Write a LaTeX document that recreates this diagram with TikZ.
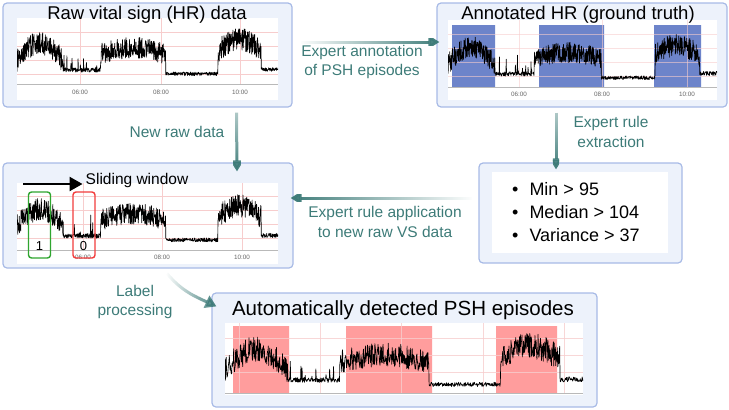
\documentclass[tikz,border=0pt]{standalone}
\usepackage{fontspec}
\setmainfont{Liberation Sans}
\usetikzlibrary{arrows.meta,fadings}
\definecolor{PanelFill}{HTML}{EDF2FB}
\definecolor{PanelEdge}{HTML}{A7BAE6}
\definecolor{FlowTeal}{HTML}{3D7B78}
\definecolor{GridPink}{HTML}{F7CDCD}
\definecolor{TruthBlue}{HTML}{6D84CA}
\definecolor{DetectRed}{HTML}{FF9D9D}
\definecolor{WinGreen}{HTML}{2FA52F}
\definecolor{WinRed}{HTML}{F23D3D}
\tikzfading[name=fadeE,left color=transparent!100,middle color=transparent!15,right color=transparent!0]
\tikzfading[name=fadeW,left color=transparent!0,middle color=transparent!15,right color=transparent!100]
\tikzfading[name=fadeS,top color=transparent!60,bottom color=transparent!0]
% noisy heart-rate trace: x from #1 to #2, low level at y=#3, height #4
\newcommand\hrtrace[4]{%
  \draw[hrline] plot[domain=0:1,samples=900,variable=\t]
    ({#1+\t*(#2-#1)},{#3-#4*(hrenv(\t)+hrnz(\t)*rand+hrspk(\t))});}

\begin{document}
\begin{tikzpicture}[x=1pt,y=-1pt,line join=round,
  panel/.style={draw=PanelEdge,fill=PanelFill,line width=1.2pt,rounded corners=4pt,inner sep=0pt},
  gridln/.style={GridPink,line width=0.5pt},
  axisln/.style={gray!55,line width=0.7pt},
  ticklbl/.style={font=\fontsize{6.3}{7}\selectfont,text=gray!80!black,inner sep=0pt},
  title/.style={font=\fontsize{18.5}{21}\selectfont,inner sep=0pt},
  flowlbl/.style={text=FlowTeal,align=center,font=\fontsize{15.5}{19.5}\selectfont,inner sep=0pt},
  flow/.style={FlowTeal,line width=3pt,-{Triangle[length=11pt,width=13pt]}},
  hrline/.style={black,line width=0.65pt},
  rulelbl/.style={font=\fontsize{18}{21}\selectfont,anchor=west,inner sep=0pt},
  window/.style={line width=1.4pt,rounded corners=3pt,minimum width=22pt,minimum height=66pt,inner sep=0pt},
  declare function={
    hrenv(\t)=(\t<0.175)?(0.3+0.55*sin(180*\t/0.175)):((\t<0.32)?0.0:((\t<0.57)?(0.5+0.2*sin(180*(\t-0.32)/0.25)):((\t<0.77)?-0.12:((\t<0.935)?(0.6+0.35*sin(180*(\t-0.77)/0.165)):0.02))));
    hrnz(\t)=(\t<0.175)?0.36:((\t<0.32)?0.07:((\t<0.57)?0.33:((\t<0.77)?0.06:((\t<0.935)?0.36:0.07))));
    hrspk(\t)=(\t>0.175)*(\t<0.32)*(rnd>0.9)*0.6*rnd;}]
\pgfmathsetseed{4217}
\useasboundingbox (0,0) rectangle (729,410);

% panels
\node[panel,minimum width=289pt,minimum height=104pt] (raw) at (147.5,55) {};
\node[panel,minimum width=290pt,minimum height=104pt] (annot) at (582,55) {};
\node[panel,minimum width=290pt,minimum height=105pt] (slide) at (148,215.5) {};
\node[panel,minimum width=203pt,minimum height=100pt] (rules) at (580.5,213) {};
\node[panel,minimum width=385pt,minimum height=114pt] (auto) at (404.5,350) {};

% raw HR chart
\fill[white] (17,18) rectangle (278,100);
\foreach \y in {32,46,60,74} \draw[gridln] (17,\y) -- (278,\y);
\foreach \x/\lbl in {80/06:00,161/08:00,240/10:00} {
  \draw[gridln] (\x,18) -- (\x,84);
  \node[ticklbl] at (\x,92) {\lbl};}
\draw[axisln] (17,84) -- (278,84);
\begin{scope}
  \clip (17,18) rectangle (278,84);
  \hrtrace{17}{278}{70}{32}
\end{scope}
\node[title] (rawtitle) at (147,15) {Raw vital sign (HR) data};

% annotated chart
\fill[white] (448,20) rectangle (717,100);
\fill[TruthBlue] (452,25) rectangle (495,87) (539,25) rectangle (604,87) (654,25) rectangle (701,87);
\foreach \y in {34,48,62,76} \draw[gridln,opacity=0.6] (448,\y) -- (717,\y);
\foreach \x/\lbl in {519/06:00,602/08:00,687/10:00} {
  \draw[gridln,opacity=0.6] (\x,20) -- (\x,87);
  \node[ticklbl] at (\x,94) {\lbl};}
\draw[axisln] (448,87) -- (717,87);
\begin{scope}
  \clip (448,20) rectangle (717,87);
  \hrtrace{448}{717}{74}{31}
\end{scope}
\node[title] (annottitle) at (578,15) {Annotated HR (ground truth)};

% sliding window chart
\fill[white] (17,183) rectangle (278,264);
\foreach \y in {196,210,224,238} \draw[gridln] (17,\y) -- (278,\y);
\foreach \x/\lbl in {83/06:00,162/08:00,242/10:00} {
  \draw[gridln] (\x,183) -- (\x,250);
  \node[ticklbl] at (\x,257) {\lbl};}
\draw[axisln] (17,250) -- (278,250);
\begin{scope}
  \clip (17,183) rectangle (278,250);
  \hrtrace{17}{278}{236}{32}
\end{scope}
\node[font=\fontsize{15.5}{18}\selectfont,inner sep=0pt] (slidetxt) at (137,180) {Sliding window};
\coordinate (winstart) at (23,184);
\draw[line width=2.2pt,-{Triangle[length=13pt,width=14pt]}] (winstart) -- ([xshift=-3pt]slidetxt.west |- winstart);
\node[window,draw=WinGreen] (winone) at (39.5,225) {};
\node[window,draw=WinRed] (winzero) at (84,225) {};
\node[font=\fontsize{13}{15}\selectfont] (lblone) at (39.5,246) {1};
\node[font=\fontsize{13}{15}\selectfont] (lblzero) at (83.5,246) {0};

% rules
\fill[white] (492,172) rectangle (668,253);
\node[rulelbl] (rmin) at (512,189) {\textbullet\hspace{11pt}Min > 95};
\node[rulelbl] (rmed) at (512,212) {\textbullet\hspace{11pt}Median > 104};
\node[rulelbl] (rvar) at (512,235) {\textbullet\hspace{11pt}Variance > 37};

% detected chart
\fill[white] (225,323) rectangle (583,395);
\fill[DetectRed] (233,326) rectangle (289,393) (346,326) rectangle (432,393) (496,326) rectangle (557,393);
\foreach \y in {338,355,372} \draw[gridln,opacity=0.8] (225,\y) -- (583,\y);
\foreach \x in {239,320,401,483,564} \draw[gridln,opacity=0.8] (\x,323) -- (\x,393);
\draw[axisln] (225,393) -- (583,393);
\begin{scope}
  \clip (225,323) rectangle (583,393);
  \hrtrace{225}{583}{380}{36}
\end{scope}
\node[title,font=\fontsize{20.5}{23}\selectfont] (autotitle) at (403,310) {Automatically detected PSH episodes};

% flows
\draw[flow,path fading=fadeE] ([shift={(8,-13)}]raw.east) -- ([shift={(3,-13)}]annot.west);
\node[flowlbl] (annotlbl) at (362,62) {Expert annotation\\of PSH episodes};
\draw[flow,path fading=fadeS] ([shift={(89,5)}]raw.south) -- ([shift={(89,9)}]slide.north);
\node[flowlbl] (newlbl) at (177,132) {New raw data};
\draw[flow,path fading=fadeS] ([shift={(-26,5)}]annot.south) -- ([shift={(-24.5,7)}]rules.north);
\node[flowlbl] (extractlbl) at (611,132) {Expert rule\\extraction};
\draw[flow,path fading=fadeW] ([shift={(-6,-15)}]rules.west) -- ([shift={(-3,-17.5)}]slide.east);
\node[flowlbl] (applylbl) at (385,222) {Expert rule application\\to new raw VS data};
\draw[flow,path fading=fadeE] ([shift={(19,5)}]slide.south) to[out=-50,in=155] ([shift={(5,14)}]auto.north west);
\node[flowlbl] (labellbl) at (135,302) {Label\\processing};
\end{tikzpicture}
\end{document}
